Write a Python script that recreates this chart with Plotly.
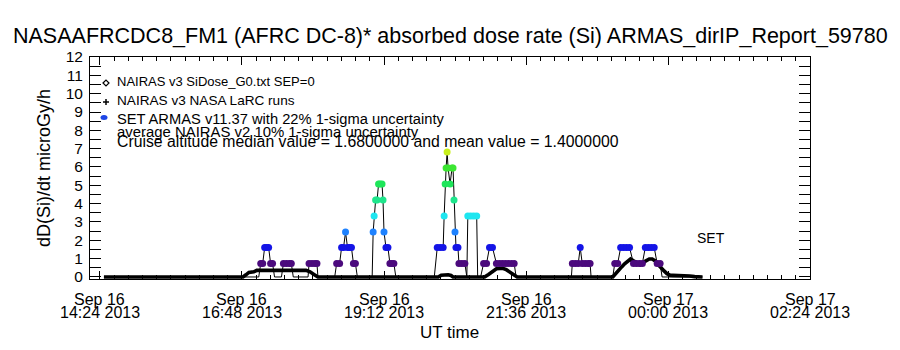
import plotly.graph_objects as go

# ---------------- data ----------------
title_text = "NASAAFRCDC8_FM1 (AFRC DC-8)* absorbed dose rate (Si) ARMAS_dirIP_Report_59780"
y_title = "dD(Si)/dt microGy/h"
x_title = "UT time"

xtick_times = ["2013-09-16 14:24", "2013-09-16 16:48", "2013-09-16 19:12",
               "2013-09-16 21:36", "2013-09-17 00:00", "2013-09-17 02:24"]
xtick_date = ["Sep 16", "Sep 16", "Sep 16", "Sep 16", "Sep 17", "Sep 17"]
xtick_time = ["14:24 2013", "16:48 2013", "19:12 2013", "21:36 2013", "00:00 2013", "02:24 2013"]
ytick_vals = list(range(0, 13))
x_range = ["2013-09-16 14:13:52", "2013-09-17 02:24"]
y_range = [-0.11, 12.0]

legend_texts = [
    "NAIRAS v3 SiDose_G0.txt SEP=0",
    "NAIRAS v3 NASA LaRC runs",
    "SET ARMAS v11.37 with 22% 1-sigma uncertainty",
    "average NAIRAS v2 10% 1-sigma uncertainty",
    "Cruise altitude median value = 1.6800000 and mean value = 1.4000000",
]

# NAIRAS v3 SiDose (SEP=0)
nairas_t = ["2013-09-16 14:28", "2013-09-16 16:49", "2013-09-16 16:52", "2013-09-16 16:55",
            "2013-09-16 17:00", "2013-09-16 17:03", "2013-09-16 17:53", "2013-09-16 17:57",
            "2013-09-16 18:01", "2013-09-16 18:05", "2013-09-16 20:07", "2013-09-16 20:10",
            "2013-09-16 20:17", "2013-09-16 20:20", "2013-09-16 20:22", "2013-09-16 20:54",
            "2013-09-16 20:58", "2013-09-16 21:02", "2013-09-16 21:06", "2013-09-16 21:10",
            "2013-09-16 21:13", "2013-09-16 21:16", "2013-09-16 21:20", "2013-09-16 21:24",
            "2013-09-16 21:27", "2013-09-16 23:04", "2013-09-16 23:07", "2013-09-16 23:10",
            "2013-09-16 23:13", "2013-09-16 23:16", "2013-09-16 23:19", "2013-09-16 23:22",
            "2013-09-16 23:25", "2013-09-16 23:29", "2013-09-16 23:32", "2013-09-16 23:35",
            "2013-09-16 23:38", "2013-09-16 23:41", "2013-09-16 23:44", "2013-09-16 23:47",
            "2013-09-16 23:50", "2013-09-16 23:53", "2013-09-16 23:56", "2013-09-16 23:59",
            "2013-09-17 00:02", "2013-09-17 00:05", "2013-09-17 00:12", "2013-09-17 00:19",
            "2013-09-17 00:22", "2013-09-17 00:27", "2013-09-17 00:35"]
nairas_v = [0.0, 0.0, 0.12, 0.25,
            0.28, 0.36, 0.36, 0.28,
            0.14, 0.0, 0.0, 0.1,
            0.12, 0.08, 0.0, 0.0,
            0.14, 0.3, 0.45, 0.46,
            0.46, 0.4, 0.25, 0.1,
            0.0, 0.0, 0.2, 0.4,
            0.55, 0.72, 0.88, 0.98,
            0.88, 0.76, 0.66, 0.8,
            0.92, 0.98, 0.98, 0.88,
            0.68, 0.48, 0.33, 0.18,
            0.1, 0.09, 0.09, 0.09,
            0.05, 0.02, 0.0]

# SET ARMAS v11.37
armas_t = ["2013-09-16 14:28", "2013-09-16 17:05", "2013-09-16 17:07", "2013-09-16 17:09",
           "2013-09-16 17:11", "2013-09-16 17:13", "2013-09-16 17:15", "2013-09-16 17:17",
           "2013-09-16 17:19", "2013-09-16 17:21", "2013-09-16 17:28", "2013-09-16 17:30",
           "2013-09-16 17:33", "2013-09-16 17:36", "2013-09-16 17:38", "2013-09-16 17:40",
           "2013-09-16 17:55", "2013-09-16 17:56", "2013-09-16 17:59", "2013-09-16 18:02",
           "2013-09-16 18:04", "2013-09-16 18:05", "2013-09-16 18:22", "2013-09-16 18:24",
           "2013-09-16 18:27", "2013-09-16 18:29", "2013-09-16 18:31", "2013-09-16 18:33",
           "2013-09-16 18:35", "2013-09-16 18:37", "2013-09-16 18:39", "2013-09-16 18:41",
           "2013-09-16 18:43", "2013-09-16 18:45", "2013-09-16 19:00", "2013-09-16 19:01",
           "2013-09-16 19:02", "2013-09-16 19:03:30", "2013-09-16 19:05", "2013-09-16 19:06:30",
           "2013-09-16 19:08", "2013-09-16 19:10", "2013-09-16 19:11", "2013-09-16 19:12",
           "2013-09-16 19:14", "2013-09-16 19:16", "2013-09-16 19:18", "2013-09-16 19:20",
           "2013-09-16 19:22", "2013-09-16 19:24", "2013-09-16 20:03", "2013-09-16 20:06",
           "2013-09-16 20:09", "2013-09-16 20:12", "2013-09-16 20:13", "2013-09-16 20:14",
           "2013-09-16 20:15", "2013-09-16 20:16", "2013-09-16 20:17", "2013-09-16 20:19",
           "2013-09-16 20:21", "2013-09-16 20:22", "2013-09-16 20:23", "2013-09-16 20:24",
           "2013-09-16 20:25", "2013-09-16 20:27", "2013-09-16 20:28", "2013-09-16 20:31",
           "2013-09-16 20:34", "2013-09-16 20:36", "2013-09-16 20:37", "2013-09-16 20:40",
           "2013-09-16 20:43", "2013-09-16 20:46", "2013-09-16 20:47", "2013-09-16 20:50",
           "2013-09-16 20:53", "2013-09-16 20:56", "2013-09-16 20:59", "2013-09-16 21:02",
           "2013-09-16 21:06", "2013-09-16 21:09", "2013-09-16 21:12", "2013-09-16 21:15",
           "2013-09-16 21:18", "2013-09-16 21:21", "2013-09-16 21:24", "2013-09-16 21:26",
           "2013-09-16 22:22", "2013-09-16 22:23", "2013-09-16 22:26", "2013-09-16 22:29",
           "2013-09-16 22:31", "2013-09-16 22:33", "2013-09-16 22:36", "2013-09-16 22:39",
           "2013-09-16 22:41", "2013-09-16 22:42", "2013-09-16 23:04", "2013-09-16 23:06",
           "2013-09-16 23:09", "2013-09-16 23:12", "2013-09-16 23:15", "2013-09-16 23:18",
           "2013-09-16 23:21", "2013-09-16 23:25", "2013-09-16 23:28", "2013-09-16 23:31",
           "2013-09-16 23:34", "2013-09-16 23:37", "2013-09-16 23:40", "2013-09-16 23:43",
           "2013-09-16 23:46", "2013-09-16 23:49", "2013-09-16 23:52", "2013-09-16 23:54",
           "2013-09-17 00:35"]
armas_v = [0.0, 0.0, 0.74, 0.74,
           1.61, 1.61, 1.61, 0.74,
           0.74, 0.0, 0.0, 0.74,
           0.74, 0.74, 0.74, 0.0,
           0.0, 0.74, 0.74, 0.74,
           0.74, 0.0, 0.0, 0.74,
           0.74, 1.61, 1.61, 2.45,
           1.61, 1.61, 1.61, 0.74,
           0.74, 0.0, 0.0, 2.45,
           3.33, 4.2, 4.2, 5.07,
           5.07, 5.07, 4.2, 2.45,
           1.61, 1.61, 0.74, 0.74,
           0.74, 0.0, 0.0, 1.61,
           1.61, 1.61, 3.33, 5.07,
           5.95, 6.82, 5.95, 5.07,
           5.95, 5.95, 4.2, 2.45,
           1.61, 1.61, 0.74, 0.74,
           0.74, 0.0, 3.33, 3.33,
           3.33, 3.33, 0.0, 0.0,
           0.74, 0.74, 1.61, 1.61,
           0.74, 0.74, 0.74, 0.74,
           0.74, 0.74, 0.74, 0.0,
           0.0, 0.74, 0.74, 0.74,
           1.61, 0.74, 0.74, 0.74,
           0.74, 0.0, 0.0, 0.74,
           0.74, 1.61, 1.61, 1.61,
           1.61, 0.74, 0.74, 0.74,
           0.74, 1.61, 1.61, 1.61,
           1.61, 0.74, 0.74, 0.0,
           0.0]

# colour levels used for the ARMAS symbols
level_vals = [0.74, 1.61, 2.45, 3.33, 4.2, 5.07, 5.95, 6.82]
level_cols = ["#4B0A7D", "#1414E6", "#1E82FF", "#1EE6F0", "#1EE68C", "#1EE65A", "#3CE632", "#C8F01E"]

# ---------------- geometry helpers (pixel -> paper) ----------------
L, R, T, B = 90, 810, 57, 279
W, H = 900, 350


def xp(px):
    return (px - L) / (R - L)


def yp(py):
    return (B - py) / (B - T)


FONT = "Liberation Sans, Arial, sans-serif"

fig = go.Figure()

fig.add_trace(go.Scatter(x=nairas_t, y=nairas_v, mode="lines",
                         line=dict(color="black", width=3.6),
                         showlegend=False, hoverinfo="skip"))

fig.add_trace(go.Scatter(x=armas_t, y=armas_v, mode="lines",
                         line=dict(color="black", width=1),
                         showlegend=False, hoverinfo="skip"))

nz_t = [t for t, v in zip(armas_t, armas_v) if v > 0]
nz_v = [v for v in armas_v if v > 0]
lo, hi = level_vals[0], level_vals[-1]
cscale = [[(v - lo) / (hi - lo), c] for v, c in zip(level_vals, level_cols)]
fig.add_trace(go.Scatter(x=nz_t, y=nz_v, mode="markers",
                         marker=dict(symbol="circle", size=7, color=nz_v, colorscale=cscale,
                                     cmin=lo, cmax=hi, line=dict(width=0)),
                         showlegend=False, hoverinfo="skip"))

annotations = []
# title
annotations.append(dict(text=title_text, xref="paper", yref="paper", x=0.5, y=yp(36),
                        xanchor="center", yanchor="middle", showarrow=False,
                        font=dict(family=FONT, size=21.5, color="black")))
# y title
annotations.append(dict(text=y_title, xref="paper", yref="paper", x=xp(44), y=yp(168),
                        xanchor="center", yanchor="middle", showarrow=False, textangle=-90,
                        font=dict(family=FONT, size=18, color="black")))
# x title
annotations.append(dict(text=x_title, xref="paper", yref="paper", x=xp(449), y=yp(332),
                        xanchor="center", yanchor="middle", showarrow=False,
                        font=dict(family=FONT, size=17, color="black")))
# x tick labels (two lines)
for tv, d, tm in zip(xtick_times, xtick_date, xtick_time):
    annotations.append(dict(text=d, xref="x", yref="paper", x=tv, y=yp(299),
                            xanchor="center", yanchor="middle", showarrow=False,
                            font=dict(family=FONT, size=16, color="black")))
    annotations.append(dict(text=tm, xref="x", yref="paper", x=tv, y=yp(312),
                            xanchor="center", yanchor="middle", showarrow=False,
                            font=dict(family=FONT, size=16, color="black")))
# legend texts
leg_y = [81, 100, 119, 132, 141]
leg_size = [13, 13.6, 14.7, 14.9, 15.8]
for txt, ly, fs in zip(legend_texts, leg_y, leg_size):
    annotations.append(dict(text=txt, xref="paper", yref="paper", x=xp(115), y=yp(ly),
                            xanchor="left", yanchor="middle", showarrow=False,
                            font=dict(family=FONT, size=fs, color="black")))
# SET label
annotations.append(dict(text="SET", xref="paper", yref="paper", x=xp(711), y=yp(238),
                        xanchor="center", yanchor="middle", showarrow=False,
                        font=dict(family=FONT, size=14, color="black")))

shapes = []
# legend symbols: diamond, plus, filled blue circle
dx, dy = 106, 83
shapes.append(dict(type="path", xref="paper", yref="paper",
                   path=f"M {xp(dx-3)},{yp(dy)} L {xp(dx)},{yp(dy-3)} L {xp(dx+3)},{yp(dy)} L {xp(dx)},{yp(dy+3)} Z",
                   line=dict(color="black", width=1.2), fillcolor="white"))
px_, py_ = 106, 102
shapes.append(dict(type="line", xref="paper", yref="paper", x0=xp(px_-3), x1=xp(px_+3),
                   y0=yp(py_), y1=yp(py_), line=dict(color="black", width=1.5)))
shapes.append(dict(type="line", xref="paper", yref="paper", x0=xp(px_), x1=xp(px_),
                   y0=yp(py_-3), y1=yp(py_+3), line=dict(color="black", width=1.5)))
cx, cy = 104, 117.5
shapes.append(dict(type="circle", xref="paper", yref="paper", x0=xp(cx-3.5), x1=xp(cx+3.5),
                   y0=yp(cy-2.5), y1=yp(cy+2.5), line=dict(width=0), fillcolor="#1E46E6"))

fig.update_layout(
    width=W, height=H,
    margin=dict(l=L, r=W - R, t=T, b=H - B, pad=0),
    paper_bgcolor="white", plot_bgcolor="white",
    showlegend=False,
    annotations=annotations, shapes=shapes,
    xaxis=dict(type="date", range=x_range, showgrid=False, zeroline=False,
               showline=True, linecolor="black", linewidth=1, mirror="ticks",
               ticks="inside", ticklen=8, tickcolor="black", tickwidth=1,
               tickmode="array", tickvals=xtick_times, showticklabels=False,
               minor=dict(ticks="inside", ticklen=4, tickcolor="black", tickwidth=1,
                          tickmode="linear", tick0="2013-09-16 14:24", dtick=864000)),
    yaxis=dict(range=y_range, showgrid=False, zeroline=False,
               showline=True, linecolor="black", linewidth=1, mirror="ticks",
               ticks="inside", ticklen=11, tickcolor="black", tickwidth=1,
               tickmode="array", tickvals=ytick_vals,
               ticktext=[str(v) for v in ytick_vals],
               tickfont=dict(family=FONT, size=15.5, color="black"),
               ticklabelstandoff=3,
               minor=dict(ticks="inside", ticklen=11, tickcolor="black", tickwidth=1,
                          tickmode="linear", tick0=0, dtick=0.5)),
)

fig.write_html("out.html")
